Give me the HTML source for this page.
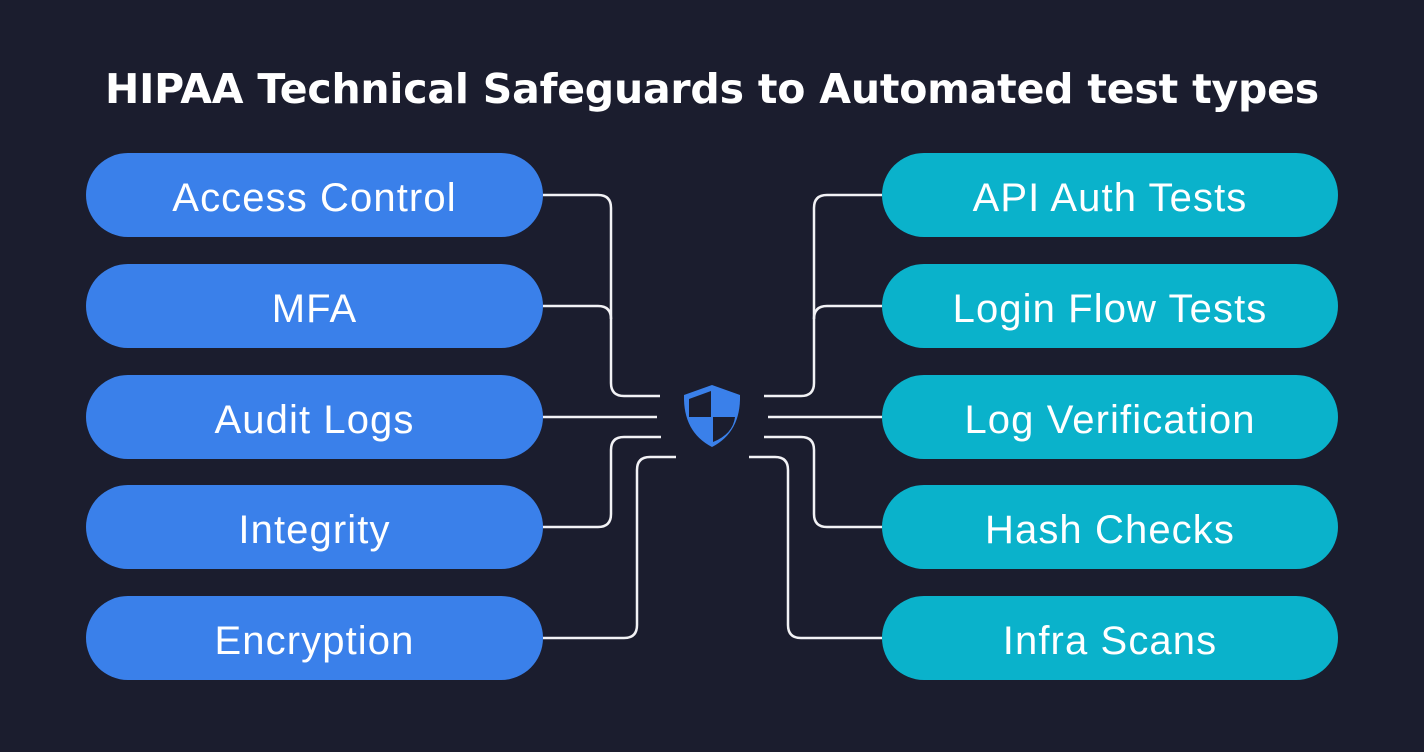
<!DOCTYPE html>
<html><head><meta charset="utf-8"><style>
html,body{margin:0;padding:0;}
body{width:1424px;height:752px;background:#1b1d2e;position:relative;overflow:hidden;font-family:"Liberation Sans",sans-serif;}
.t{position:absolute;left:0;width:1424px;top:65px;text-align:center;color:#fff;font-family:"DejaVu Sans",sans-serif;font-weight:bold;font-size:41px;letter-spacing:-0.2px;white-space:nowrap;}
.p{position:absolute;width:457px;height:84px;border-radius:42px;color:#fff;font-size:40px;line-height:90px;text-align:center;letter-spacing:1.1px;}
.l{left:86px;background:#3a80ea;}
.r{left:882px;width:456px;background:#0ab2cb;}
svg{position:absolute;left:0;top:0;}
</style></head><body>
<div class="t">HIPAA Technical Safeguards to Automated test types</div>
<svg width="1424" height="752" fill="none" stroke="#f2f2f5" stroke-width="2.5">
<path d="M543 195 H598 Q611 195 611 208 V383 Q611 396 624 396 H660"/>
<path d="M543 306 H598 Q611 306 611 319"/>
<path d="M543 417 H657"/>
<path d="M543 527 H598 Q611 527 611 514 V450 Q611 437 624 437 H661"/>
<path d="M543 638 H624 Q637 638 637 625 V470 Q637 457 650 457 H676"/>
<path d="M882 195 H827 Q814 195 814 208 V383 Q814 396 801 396 H764"/>
<path d="M882 306 H827 Q814 306 814 319"/>
<path d="M882 417 H768"/>
<path d="M882 527 H827 Q814 527 814 514 V450 Q814 437 801 437 H764"/>
<path d="M882 638 H801 Q788 638 788 625 V470 Q788 457 775 457 H749"/>
<g stroke="none">
<path d="M712 385 L740 395 Q741 432 712 447 Q683 432 684 395 Z" fill="#3a80ea"/>
<path d="M711 391 L711 417 L689 417 L689 399 Z" fill="#1b1d2e"/>
<path d="M713 417 L735 417 Q733 434 713 442 Z" fill="#1b1d2e"/>
</g>
</svg>
<div class="p l" style="top:153px">Access Control</div>
<div class="p l" style="top:264px">MFA</div>
<div class="p l" style="top:375px">Audit Logs</div>
<div class="p l" style="top:485px">Integrity</div>
<div class="p l" style="top:596px">Encryption</div>
<div class="p r" style="top:153px">API Auth Tests</div>
<div class="p r" style="top:264px">Login Flow Tests</div>
<div class="p r" style="top:375px">Log Verification</div>
<div class="p r" style="top:485px">Hash Checks</div>
<div class="p r" style="top:596px">Infra Scans</div>
</body></html>
